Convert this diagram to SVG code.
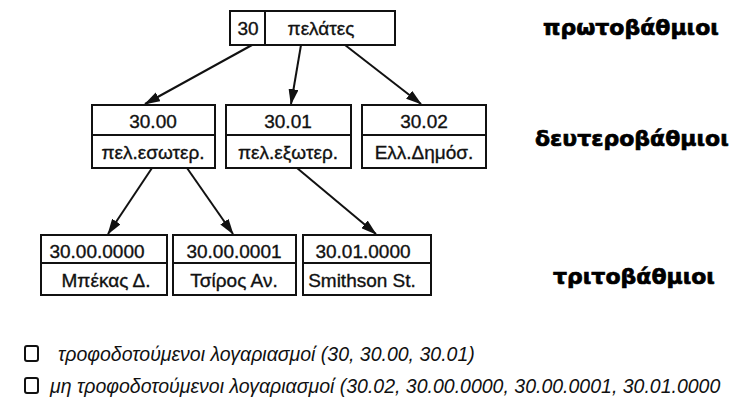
<svg xmlns="http://www.w3.org/2000/svg" width="752" height="406" viewBox="0 0 752 406">
<defs>
<style>
.box{fill:#fff;stroke:#111;stroke-width:2}
.div{stroke:#111;stroke-width:2}
.t{font-family:"Liberation Sans",Arial,sans-serif;font-size:19px;fill:#111;stroke:#111;stroke-width:0.35;text-anchor:middle}
.lvl{font-family:"DejaVu Sans","Liberation Sans",sans-serif;font-weight:bold;font-size:22px;fill:#000;stroke:#000;stroke-width:0.7}
.leg{font-family:"Liberation Sans",Arial,sans-serif;font-style:italic;font-size:19.5px;fill:#111}
.conn line{stroke:#111;stroke-width:2}
.chk{fill:none;stroke:#111;stroke-width:2}
</style>
<marker id="ah" viewBox="0 0 16 10" refX="15" refY="5" markerWidth="16" markerHeight="10" markerUnits="userSpaceOnUse" orient="auto">
<path d="M0,0 L16,5 L0,10 Z" fill="#111"/>
</marker>
</defs>
<rect width="752" height="406" fill="#fff"/>

<g class="conn">
<line x1="252" y1="45" x2="145" y2="104" marker-end="url(#ah)"/>
<line x1="301" y1="45" x2="291" y2="104" marker-end="url(#ah)"/>
<line x1="345" y1="45" x2="421" y2="104" marker-end="url(#ah)"/>
<line x1="152" y1="168" x2="108" y2="234" marker-end="url(#ah)"/>
<line x1="187" y1="168" x2="233" y2="234" marker-end="url(#ah)"/>
<line x1="297" y1="168" x2="376" y2="234" marker-end="url(#ah)"/>
</g>

<g id="n30">
<rect class="box" x="230" y="11" width="165" height="34"/>
<line class="div" x1="265" y1="11" x2="265" y2="45"/>
<text class="t" x="248" y="35">30</text>
<text class="t" x="321" y="35">πελάτες</text>
</g>

<g id="n3000">
<rect class="box" x="92" y="105" width="123" height="63"/>
<line class="div" x1="92" y1="135" x2="215" y2="135"/>
<text class="t" x="153" y="128">30.00</text>
<text class="t" x="153" y="159">πελ.εσωτερ.</text>
</g>
<g id="n3001">
<rect class="box" x="226" y="105" width="125" height="63"/>
<line class="div" x1="226" y1="135" x2="351" y2="135"/>
<text class="t" x="288" y="128">30.01</text>
<text class="t" x="288" y="159">πελ.εξωτερ.</text>
</g>
<g id="n3002">
<rect class="box" x="362" y="105" width="124" height="63"/>
<line class="div" x1="362" y1="135" x2="486" y2="135"/>
<text class="t" x="424" y="128">30.02</text>
<text class="t" x="424" y="159">Ελλ.Δημόσ.</text>
</g>

<g id="n30000000">
<rect class="box" x="41" y="235" width="126" height="60"/>
<line class="div" x1="41" y1="263" x2="167" y2="263"/>
<text class="t" x="97" y="258">30.00.0000</text>
<text class="t" x="106" y="287">Μπέκας Δ.</text>
</g>
<g id="n30000001">
<rect class="box" x="173" y="235" width="123" height="60"/>
<line class="div" x1="173" y1="263" x2="296" y2="263"/>
<text class="t" x="234" y="258">30.00.0001</text>
<text class="t" x="234" y="287">Τσίρος Αν.</text>
</g>
<g id="n30010000">
<rect class="box" x="303" y="235" width="128" height="60"/>
<line class="div" x1="303" y1="263" x2="431" y2="263"/>
<text class="t" x="363" y="258">30.01.0000</text>
<text class="t" x="362" y="287">Smithson St.</text>
</g>

<g id="levels">
<text class="lvl" x="543" y="35">πρωτοβάθμιοι</text>
<text class="lvl" x="535" y="146">δευτεροβάθμιοι</text>
<text class="lvl" x="553" y="284">τριτοβάθμιοι</text>
</g>

<g id="legend">
<rect class="chk" x="25" y="346" width="13" height="15" rx="2"/>
<text class="leg" x="58" y="361">τροφοδοτούμενοι λογαριασμοί (30, 30.00, 30.01)</text>
<rect class="chk" x="25" y="378" width="13" height="15" rx="2"/>
<text class="leg" x="50" y="393">μη τροφοδοτούμενοι λογαριασμοί (30.02, 30.00.0000, 30.00.0001, 30.01.0000</text>
</g>
</svg>
